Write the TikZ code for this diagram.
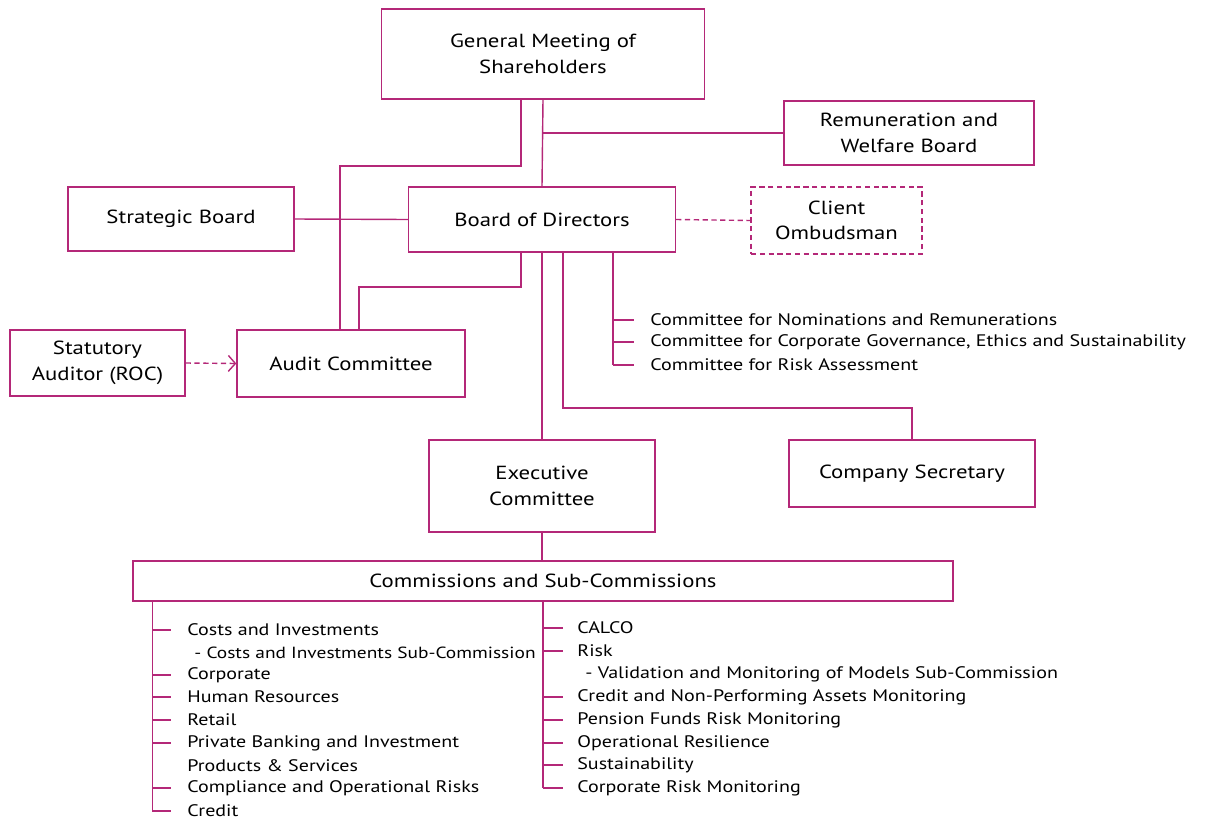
\documentclass[tikz,border=0pt]{standalone}
\usepackage{fontspec}
\setmainfont[FakeStretch=1.2]{PT Sans}
\usetikzlibrary{calc,arrows.meta}
\definecolor{orgline}{RGB}{180,40,120}

\begin{document}
\begin{tikzpicture}[x=0.02cm,y=-0.02cm,
    box/.style={draw=orgline, line width=0.8pt, align=center, inner sep=0pt,
      font=\fontsize{10.8}{14.5}\selectfont},
    link/.style={draw=orgline, line width=0.8pt},
    entry/.style={anchor=west, inner sep=0pt, font=\fontsize{9.5}{11}\selectfont}]
  \useasboundingbox (0,0) rectangle (1208,825);% keep the page size
  % boxes
  \node[box, minimum width=6.46cm, minimum height=1.8cm] (gm) at (543,54) {General Meeting of\\Shareholders};
  \node[box, minimum width=5cm, minimum height=1.28cm] (remun) at (909,133) {Remuneration and\\Welfare Board};
  \node[box, minimum width=4.52cm, minimum height=1.28cm] (strat) at (181,219) {Strategic Board};
  \node[box, minimum width=5.34cm, minimum height=1.3cm] (bod) at (542,219.5) {Board of Directors};
  \node[box, dash pattern=on 3pt off 2pt, minimum width=3.42cm, minimum height=1.34cm] (client) at (836.5,220.5) {Client\\Ombudsman};
  \node[box, minimum width=3.5cm, minimum height=1.32cm] (stat) at (97.5,363) {Statutory\\Auditor (ROC)};
  \node[box, minimum width=4.56cm, minimum height=1.34cm] (audit) at (351,363.5) {Audit Committee};
  \node[box, minimum width=4.52cm, minimum height=1.84cm] (exec) at (542,486) {Executive\\Committee};
  \node[box, minimum width=4.92cm, minimum height=1.34cm] (secr) at (912,473.5) {Company Secretary};
  \node[box, minimum width=16.4cm, minimum height=0.8cm] (comm) at (543,581) {Commissions and Sub-Commissions};

  % helper points of the elbow lines
  \coordinate (ga) at (340,166);
  \coordinate (ba) at (359,287);
  \coordinate (bs) at (912,408);
  \coordinate (bc) at ($(bod.south)+(71,0)$);
  \coordinate (lt) at ($(comm.south west)+(20,0)$);
  \coordinate (rt) at (comm.south);

  % links from the general meeting
  \draw[link] (gm.south) -- (bod.north);
  \draw[link] (remun.west) -- (remun.west -| gm.south);
  \draw[link] ($(gm.south)+(-22,0)$) |- (ga) -- (ga |- audit.north);
  % links of the board
  \draw[link] (strat.east) -- (bod.west);
  \draw[link, dash pattern=on 3pt off 2pt] (bod.east) -- (client.west);
  \draw[link] ($(bod.south)+(-21,0)$) |- (ba) -- (ba |- audit.north);
  \draw[link] (bod.south) -- (exec.north);
  \draw[link] ($(bod.south)+(21,0)$) |- (bs) -- (secr.north);
  \draw[link, dash pattern=on 3pt off 2pt, -{Straight Barb[length=4pt,width=9pt]}] (stat.east) -- (audit.west);
  \draw[link] (exec.south) -- (exec.south |- comm.north);

  % board committees
  \foreach \n/\y/\t in {c1/320/{Committee for Nominations and Remunerations},
      c2/342/{Committee for Corporate Governance, Ethics and Sustainability},
      c3/365/{Committee for Risk Assessment}}{
    \node[entry] (\n) at (650,\y) {\t};
    \draw[link] (bc |- \n.west) -- ++(21,0);}
  \draw[link] (bc) -- (bc |- c3.west);

  % commissions, left column
  \foreach \n/\y/\t in {l1/630/{Costs and Investments}, l3/675/{Corporate},
      l4/697/{Human Resources}, l5/720/{Retail},
      l6/743/{Private Banking and Investment},
      l8/788/{Compliance and Operational Risks}, l9/811/{Credit}}{
    \node[entry] (\n) at (187,\y) {\t};
    \draw[link] (lt |- \n.west) -- ++(19,0);}
  \node[entry, font=\fontsize{9.2}{11}\selectfont] (l2) at (194,652.5) {- Costs and Investments Sub-Commission};
  \node[entry] (l7) at (187,765.5) {Products \& Services};
  \draw[link] (lt) -- (lt |- l9.west);

  % commissions, right column
  \foreach \n/\y/\t in {r1/628/{CALCO}, r2/651/{Risk},
      r4/697/{Credit and Non-Performing Assets Monitoring},
      r5/720/{Pension Funds Risk Monitoring}, r6/743/{Operational Resilience},
      r7/765/{Sustainability}, r8/788/{Corporate Risk Monitoring}}{
    \node[entry] (\n) at (577,\y) {\t};
    \draw[link] (rt |- \n.west) -- ++(20,0);}
  \node[entry] (r3) at (585,674) {- Validation and Monitoring of Models Sub-Commission};
  \draw[link] (rt) -- (rt |- r8.west);
\end{tikzpicture}
\end{document}
